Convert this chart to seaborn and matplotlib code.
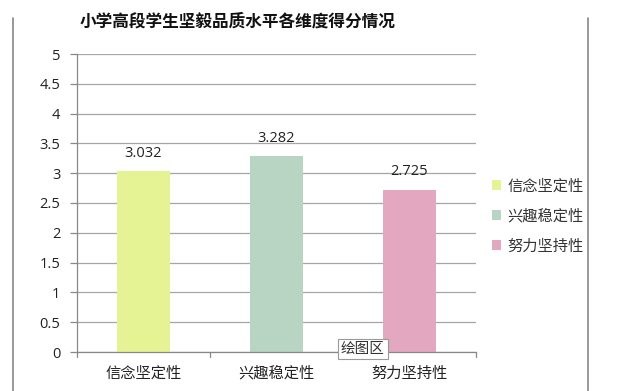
import matplotlib
matplotlib.use("Agg")
import matplotlib.pyplot as plt
import seaborn as sns
import pandas as pd
from matplotlib.lines import Line2D
from matplotlib.patches import Patch

categories = ["信念坚定性", "兴趣稳定性", "努力坚持性"]
scores = [3.032, 3.282, 2.725]
colors = ["#E6F394", "#B8D4C2", "#E3A7C0"]
title = "小学高段学生坚毅品质水平各维度得分情况"
yticks = [0, 0.5, 1, 1.5, 2, 2.5, 3, 3.5, 4, 4.5, 5]

sns.set_theme(style="white")
plt.rcParams['font.family'] = ['Noto Sans CJK SC', 'DejaVu Sans']

df = pd.DataFrame({"cat": categories, "score": scores})

fig = plt.figure(figsize=(6.2, 3.91), dpi=100)
ax = fig.add_axes([77/620, 1-352/391, (476-77)/620, (352-54)/391])

sns.barplot(data=df, x="cat", y="score", hue="cat", palette=colors,
            width=0.4, dodge=False, legend=False, ax=ax, saturation=1,
            linewidth=0, edgecolor="none")

ax.set_xlim(-0.5, 2.5)
ax.set_ylim(0, 5)
ax.set_yticks(yticks)
ax.set_yticklabels([f"{v:g}" for v in yticks], fontsize=10.5, color="#222222",
                   family="Open Sans")
ax.yaxis.grid(True, color="#A6A6A6", linewidth=0.9)
ax.set_axisbelow(True)
ax.set_xlabel("")
ax.set_ylabel("")
ax.tick_params(axis="x", length=0, labelsize=11, colors="#222222", pad=9)
ax.tick_params(axis="y", left=True, length=5, width=0.9, color="#888888", pad=7)

for s in ["top", "right"]:
    ax.spines[s].set_visible(False)
for s in ["left", "bottom"]:
    ax.spines[s].set_color("#888888")
    ax.spines[s].set_linewidth(0.9)

# boundary ticks on x-axis
for xb in [-0.5, 0.5, 1.5, 2.5]:
    ax.plot([xb, xb], [0, -0.08], color="#888888", lw=0.9, clip_on=False)

for i, v in enumerate(scores):
    ax.text(i, v + 0.17, f"{v:.3f}", ha="center", va="bottom", fontsize=10.5,
            color="#222222", family="Open Sans")

fig.text(238/620, 1-22/391, title, ha="center", va="center", fontsize=12,
         fontweight="bold", color="#111111")

handles = [Patch(facecolor=c, edgecolor="none") for c in colors]
fig.legend(handles, categories, loc="center left", bbox_to_anchor=(478/620, 1-216/391),
           frameon=False, fontsize=11, handlelength=0.6, handleheight=0.6,
           handletextpad=0.4, labelspacing=0.85, labelcolor="#333333")

# chart border lines
fig.add_artist(Line2D([13/620, 13/620], [0, 1-18/391], color="#888888", lw=1.2))
fig.add_artist(Line2D([588/620, 588/620], [0, 1-18/391], color="#888888", lw=1.2))

# plot-area tooltip
fig.text(341/620, 1-349/391, "绘图区", ha="left", va="center", fontsize=10.5, color="#333333",
         bbox=dict(boxstyle="square,pad=0.2", facecolor="white", edgecolor="#999999", lw=0.8))

fig.savefig("out.png", dpi=100)
